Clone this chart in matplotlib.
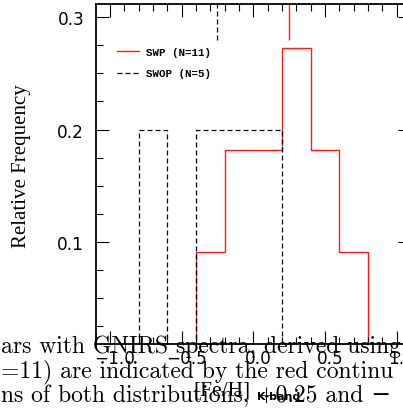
import matplotlib
matplotlib.use("Agg")
import matplotlib.pyplot as plt
import matplotlib.transforms as mtransforms
from matplotlib.ticker import MultipleLocator, FixedFormatter, FixedLocator
from matplotlib.lines import Line2D
import numpy as np

# ---- data ----
bin_edges_swp = [-0.4, -0.2, 0.0, 0.2, 0.4, 0.6, 0.8]
swp_counts = [1, 2, 2, 3, 2, 1]
n_swp = 11
bin_edges_swop = [-0.8, -0.6, -0.4, -0.2, 0.0, 0.2]
swop_counts = [1, 0, 1, 1, 1]
n_swop = 5
median_swp = 0.25
median_swop = -0.25
xticks = [-1.0, -0.5, 0.0, 0.5, 1.0]
xtick_labels = ["\u22121.0", "\u22120.5", "0.0", "0.5", "1.0"]
yticks = [0.1, 0.2, 0.3]
ytick_labels = ["0.1", "0.2", "0.3"]
caption_lines = ["ars with GNIRS spectra, derived using",
                 "=11) are indicated by the red continu",
                 "ns of both distributions, +0.25 and \u2212"]

W, H = 403, 410
fig = plt.figure(figsize=(W / 100, H / 100), dpi=100)
ax = fig.add_axes([96 / W, (H - 345) / H, 315 / W, 340 / H])

RED = "#ff1a1a"
DASH = (0, (4, 2.4))

swp_freq = np.array(swp_counts) / n_swp
swop_freq = np.array(swop_counts) / n_swop

ax.stairs(swp_freq, bin_edges_swp, color=RED, lw=1.0, baseline=0)
st = ax.stairs(swop_freq, bin_edges_swop, color="black", lw=0.9, baseline=0)
st.set_linestyle(DASH)

ax.vlines([median_swp], 0.28, 0.33, color=RED, lw=1.0)
ax.vlines([median_swop], 0.28, 0.33, color="black", lw=0.9, linestyles=[DASH])

ax.set_xlim(-1.0976, 1.1)
ax.set_ylim(0.0093, 0.3116)

ax.xaxis.set_major_locator(FixedLocator(xticks))
ax.xaxis.set_major_formatter(FixedFormatter(xtick_labels))
ax.xaxis.set_minor_locator(MultipleLocator(0.1))
ax.yaxis.set_major_locator(FixedLocator(yticks))
ax.yaxis.set_major_formatter(FixedFormatter(ytick_labels))
ax.yaxis.set_minor_locator(MultipleLocator(0.025))

ax.tick_params(which="both", direction="in", top=True, right=True, width=0.8, color="black")
ax.tick_params(which="major", length=9.4)
ax.tick_params(which="minor", length=5)
ax.tick_params(axis="y", which="major", pad=8.5, labelsize=12.2)
ax.tick_params(axis="x", which="major", pad=3.5, labelsize=12.2)
for lab in ax.get_xticklabels():
    lab.set_transform(lab.get_transform() + mtransforms.ScaledTranslation(5 / 100, 0, fig.dpi_scale_trans))
for sp in ax.spines.values():
    sp.set_linewidth(1.3)

ax.set_ylabel("Relative Frequency", family="Liberation Serif", fontsize=15)
ax.yaxis.set_label_coords((31 - 96) / 315, 1 - (166 - 5) / 340)

handles = [Line2D([], [], color=RED, lw=1.0),
           Line2D([], [], color="black", lw=0.9, linestyle=DASH)]
labels = ["SWP (N=%d)" % n_swp, "SWOP (N=%d)" % n_swop]
ax.legend(handles, labels, loc="upper left", bbox_to_anchor=((117 - 96) / 315, 1 - 43 / 340),
          frameon=False, handlelength=2.0, handletextpad=0.7, labelspacing=1.05,
          borderaxespad=0, borderpad=0,
          prop={"family": "Liberation Mono", "weight": "bold", "size": 7.8})

# x label
fig.text(193 / W, 1 - 396 / H, "[Fe/H]", family="Liberation Serif", fontsize=15.5,
         ha="left", va="baseline")
fig.text(257 / W, 1 - 400 / H, "K-band", family="DejaVu Sans", weight="bold", fontsize=8,
         ha="left", va="baseline")

# overlapping caption text
baselines = [353, 377, 402]
for txt, yb in zip(caption_lines, baselines):
    fig.text(1 / W, 1 - yb / H, txt, family=["cmr10", "DejaVu Serif"], fontsize=17,
             ha="left", va="baseline", zorder=10)

fig.savefig("out.png", dpi=100)
